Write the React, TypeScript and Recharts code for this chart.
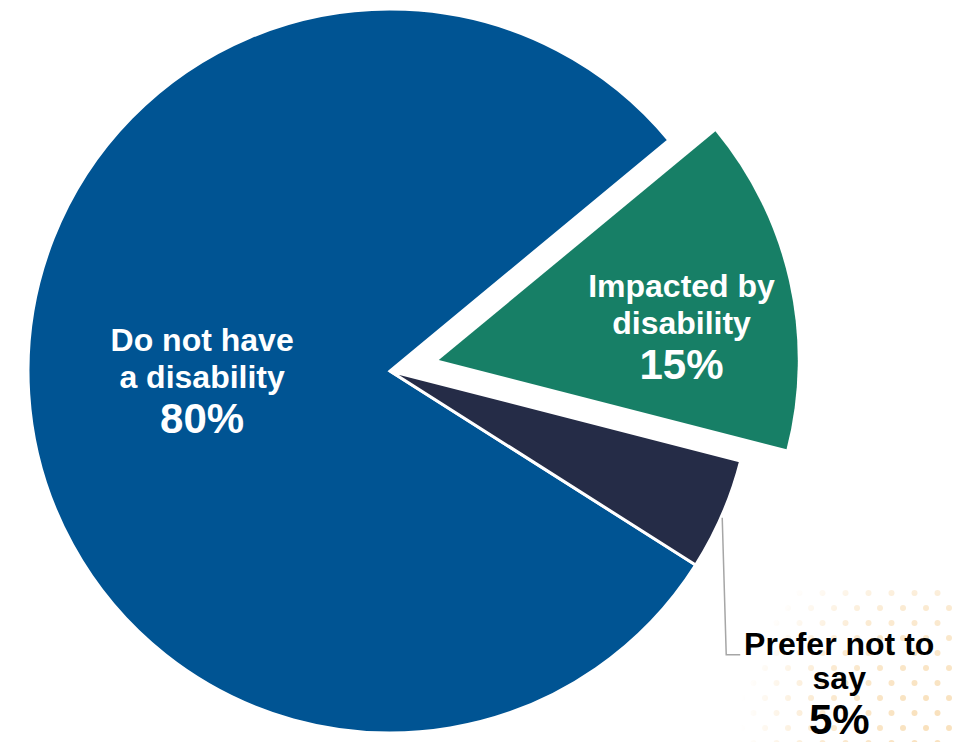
import React from 'react';
import { PieChart, Pie, Cell } from 'recharts';

const categories = ['Do not have a disability', 'Prefer not to say', 'Impacted by disability'];
const shares = [80, 5, 15];
const labelLines = [
  ['Do not have', 'a disability'],
  ['Prefer not to', 'say'],
  ['Impacted by', 'disability'],
];

const colors = ['#005493', '#252C47', '#177F66'];

const data = categories.map((name, i) => ({ name, value: shares[i] }));

const WIDTH = 954;
const HEIGHT = 742;
const CX = 390;
const CY = 371;
const RADIUS = 362;
const START_ANGLE = 39.6;
const EXPLODE_INDEX = 2;
const EXPLODE_DIST = 50;
const FONT = '"Liberation Sans", Arial, sans-serif';
const RAD = Math.PI / 180;

// mid angle of the exploded slice, from the data
const total = shares.reduce((a, b) => a + b, 0);
const before = shares.slice(0, EXPLODE_INDEX).reduce((a, b) => a + b, 0);
const explodeMid = START_ANGLE + (360 * (before + shares[EXPLODE_INDEX] / 2)) / total;
const EX_CX = CX + EXPLODE_DIST * Math.cos(explodeMid * RAD);
const EX_CY = CY - EXPLODE_DIST * Math.sin(explodeMid * RAD);

// label placement per slice (fraction of radius along mid angle + nudge)
const labelPlace: Record<number, { r: number; dx: number; dy: number }> = {
  0: { r: 0.52, dx: 0, dy: 9 },
  2: { r: 0.69, dx: 1, dy: 32 },
};

const LabelBlock = ({ x, y, lines, pct, fill, midGap = -4, pctGap = 41 }: any) => (
  <g>
    <text x={x} y={y - 41} textAnchor="middle" fill={fill} fontFamily={FONT} fontWeight="bold" fontSize={32}>
      {lines[0]}
    </text>
    <text x={x} y={y + midGap} textAnchor="middle" fill={fill} fontFamily={FONT} fontWeight="bold" fontSize={32}>
      {lines[1]}
    </text>
    <text x={x} y={y + pctGap} textAnchor="middle" fill={fill} fontFamily={FONT} fontWeight="bold" fontSize={42}>
      {pct}
    </text>
  </g>
);

const renderLabel = (allowed: number[]) => (props: any) => {
  const { cx, cy, midAngle, outerRadius, index, value } = props;
  if (!allowed.includes(index)) return null;
  const pct = `${value}%`;

  if (index === 1) {
    // outside label with leader line
    const ox = cx + outerRadius * Math.cos(-midAngle * RAD);
    const oy = cy + outerRadius * Math.sin(-midAngle * RAD);
    const ly = oy + 140;
    return (
      <g>
        <polyline
          points={`${ox},${oy + 3} ${ox + 4},${ly} ${ox + 18},${ly}`}
          fill="none"
          stroke="#A6A6A6"
          strokeWidth={1.5}
        />
        <LabelBlock
          x={ox + 117}
          y={ly + 41}
          lines={labelLines[index]}
          pct={pct}
          fill="#000000"
          midGap={-7}
          pctGap={38}
        />
      </g>
    );
  }

  const p = labelPlace[index];
  const r = outerRadius * p.r;
  const x = cx + r * Math.cos(-midAngle * RAD) + p.dx;
  const y = cy + r * Math.sin(-midAngle * RAD) + p.dy;
  return <LabelBlock x={x} y={y} lines={labelLines[index]} pct={pct} fill="#FFFFFF" />;
};

const Dots = () => (
  <svg width={WIDTH} height={HEIGHT} style={{ position: 'absolute', left: 0, top: 0 }}>
    <defs>
      <pattern id="dotPat" x="0" y="0" width="23" height="30" patternUnits="userSpaceOnUse">
        <circle cx="6" cy="8" r="3" fill="#F8DDB4" />
        <circle cx="17.5" cy="23" r="3" fill="#F8DDB4" />
      </pattern>
      <radialGradient id="dotFade" cx="930" cy="720" r="190" gradientUnits="userSpaceOnUse">
        <stop offset="0%" stopColor="#fff" stopOpacity={0.9} />
        <stop offset="60%" stopColor="#fff" stopOpacity={0.6} />
        <stop offset="100%" stopColor="#fff" stopOpacity={0} />
      </radialGradient>
      <mask id="dotMask">
        <rect x="0" y="0" width={WIDTH} height={HEIGHT} fill="url(#dotFade)" />
      </mask>
    </defs>
    <rect x="740" y="590" width="214" height="152" fill="url(#dotPat)" mask="url(#dotMask)" />
  </svg>
);

export default function App() {
  return (
    <div style={{ position: 'absolute', left: 0, top: 0, width: WIDTH, height: HEIGHT, background: '#FFFFFF' }}>
      <Dots />
      <div style={{ position: 'absolute', left: 0, top: 0 }}>
        <PieChart width={WIDTH} height={HEIGHT} margin={{ top: 0, right: 0, bottom: 0, left: 0 }}>
          <Pie
            data={data}
            dataKey="value"
            nameKey="name"
            cx={CX}
            cy={CY}
            outerRadius={RADIUS}
            startAngle={START_ANGLE}
            endAngle={START_ANGLE + 360}
            isAnimationActive={false}
            labelLine={false}
            label={renderLabel([0, 1])}
          >
            {data.map((d, i) => (
              <Cell
                key={d.name}
                fill={i === EXPLODE_INDEX ? 'none' : colors[i]}
                stroke={i === EXPLODE_INDEX ? 'none' : '#FFFFFF'}
                strokeWidth={3}
              />
            ))}
          </Pie>
          <Pie
            data={data}
            dataKey="value"
            nameKey="name"
            cx={EX_CX}
            cy={EX_CY}
            outerRadius={RADIUS - 3}
            startAngle={START_ANGLE}
            endAngle={START_ANGLE + 360}
            isAnimationActive={false}
            labelLine={false}
            label={renderLabel([EXPLODE_INDEX])}
          >
            {data.map((d, i) => (
              <Cell
                key={d.name}
                fill={i === EXPLODE_INDEX ? colors[i] : 'none'}
                stroke="none"
              />
            ))}
          </Pie>
        </PieChart>
      </div>
    </div>
  );
}
